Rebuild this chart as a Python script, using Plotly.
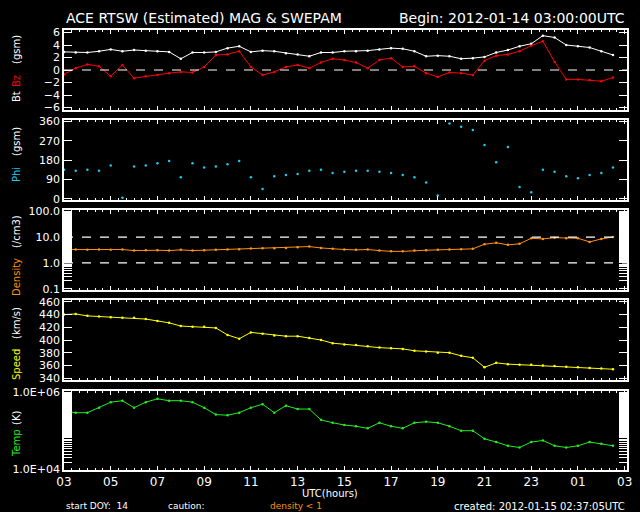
import plotly.graph_objects as go

# hours since 2012-01-14 03:00 UTC, half-hour steps
hours = [i * 0.5 for i in range(48)]

bt = [2.9, 2.8, 2.8, 3.0, 3.3, 3.0, 3.2, 3.1, 3.0, 2.9, 1.8, 2.8, 2.8, 2.9, 3.5, 3.8,
      2.9, 3.1, 3.0, 2.7, 2.5, 2.2, 2.8, 2.8, 3.0, 3.0, 3.1, 3.3, 3.5, 3.4, 3.0, 2.2,
      2.3, 2.2, 1.8, 1.9, 2.1, 2.8, 3.2, 3.8, 4.2, 5.5, 5.2, 4.0, 3.8, 3.6, 3.0, 2.4]
bz = [-0.7, 0.3, 0.9, 0.6, -1.0, 0.8, -1.3, -1.0, -0.8, -0.5, -0.3, -0.4, 0.5, 2.4, 2.5, 3.0,
      0.5, -0.8, -0.3, 0.5, 0.8, 0.3, 1.2, 1.8, 1.6, 1.2, 0.3, 1.6, 1.9, 0.5, 0.6, -0.5,
      -1.1, -0.4, -0.5, -0.8, 1.5, 2.3, 2.5, 3.0, 3.9, 4.6, 1.3, -1.5, -1.5, -1.6, -1.8, -1.2]
phi = [135, 130, 135, 130, 155, 5, 150, 155, 165, 175, 100, 165, 145, 150, 160, 175,
       100, 45, 105, 110, 115, 130, 135, 120, 125, 130, 130, 125, 120, 110, 100, 75,
       15, 350, 335, 320, 250, 170, 240, 55, 30, 135, 125, 105, 95, 110, 120, 145]
density = [3.3, 3.3, 3.2, 3.3, 3.2, 3.3, 3.0, 3.1, 3.1, 3.0, 3.2, 3.0, 3.1, 3.2, 3.3, 3.4,
           3.6, 3.7, 3.7, 3.8, 4.0, 4.3, 3.8, 3.5, 3.3, 3.2, 3.3, 3.0, 2.8, 2.8, 3.0, 3.1,
           3.2, 3.3, 3.4, 3.5, 5.3, 6.0, 5.0, 5.5, 9.0, 8.5, 9.5, 9.0, 9.0, 6.5, 8.5, 10.0]
speed = [440, 441, 438, 437, 436, 435, 435, 433, 430, 427, 422, 421, 421, 419, 408, 402,
         412, 410, 407, 406, 406, 403, 400, 395, 393, 392, 390, 388, 387, 386, 383, 382,
         380, 380, 375, 372, 357, 364, 362, 361, 361, 360, 359, 358, 357, 356, 355, 354]
temp = [3.2e5, 2.9e5, 2.9e5, 3.9e5, 5.4e5, 5.9e5, 3.9e5, 5.4e5, 6.6e5, 5.9e5, 5.9e5, 5.4e5,
        3.9e5, 2.6e5, 2.5e5, 2.9e5, 3.9e5, 4.8e5, 2.9e5, 4.4e5, 3.6e5, 3.6e5, 1.9e5, 1.6e5,
        1.4e5, 1.3e5, 1.15e5, 1.6e5, 1.3e5, 1.15e5, 1.6e5, 1.7e5, 1.6e5, 1.3e5, 1.0e5, 1.0e5,
        6.2e4, 5.1e4, 4.1e4, 3.7e4, 5.1e4, 5.6e4, 4.1e4, 3.7e4, 4.1e4, 5.1e4, 4.6e4, 4.1e4]

xtick_vals = list(range(0, 25, 2))
xtick_text = ["03", "05", "07", "09", "11", "13", "15", "17", "19", "21", "23", "01", "03"]

W, H = 640, 512
FONT = "DejaVu Sans"
# panel pixel extents (top, bottom)
panels = [(30, 110), (120, 200), (210, 290), (300, 380), (391, 470)]

fig = go.Figure()


def add(y, color, n, mode="lines+markers"):
    fig.add_trace(go.Scatter(
        x=hours, y=y, mode=mode, xaxis=f"x{n}" if n > 1 else "x",
        yaxis=f"y{n}" if n > 1 else "y",
        line=dict(color=color, width=1), marker=dict(color=color, size=2.5),
        showlegend=False, hoverinfo="skip"))


add(bt, "white", 1)
add(bz, "red", 1)
add(phi, "#22c8ee", 2, mode="markers")
add(density, "#ff9010", 3)
add(speed, "#ffff00", 4)
add(temp, "#22ee22", 5)

layout = dict(width=W, height=H, margin=dict(l=0, r=0, t=0, b=0, autoexpand=False),
              paper_bgcolor="black", plot_bgcolor="black",
              font=dict(family=FONT, color="white", size=11))

yspecs = [
    dict(range=[-6.4, 6.4], tickvals=[-6, -4, -2, 0, 2, 4, 6],
         ticktext=["−6", "−4", "−2", "0", "2", "4", "6"]),
    dict(range=[-6, 366], tickvals=[0, 90, 180, 270, 360]),
    dict(type="log", range=[-1.05, 2.05], tickvals=[0.1, 1, 10, 100],
         ticktext=["0.1", "1.0", "10.0", "100.0"],
         minor=dict(ticks="inside", ticklen=8, tickcolor="white", showgrid=False)),
    dict(range=[337, 463], tickvals=[340, 360, 380, 400, 420, 440, 460]),
    dict(type="log", range=[3.99, 6.02], tickvals=[1e4, 1e6],
         ticktext=["1.0E+04", "1.0E+06"],
         minor=dict(ticks="inside", ticklen=8, tickcolor="white", showgrid=False)),
]

for i, (top, bot) in enumerate(panels):
    n = i + 1
    suf = "" if n == 1 else str(n)
    dom = [1 - bot / H, 1 - top / H]
    layout["xaxis" + suf] = dict(
        domain=[64 / W, 627 / W], range=[0, 24.1], anchor="y" + suf, automargin=False,
        showgrid=False, zeroline=False, showline=True, linecolor="white", linewidth=1.5,
        mirror="ticks", ticks="inside", ticklen=4, tickcolor="white",
        tickvals=xtick_vals, ticktext=xtick_text if n == 5 else None,
        showticklabels=(n == 5), tickfont=dict(size=12),
        minor=dict(ticks="inside", ticklen=2, dtick=1 / 3, tickcolor="white", showgrid=False))
    ys = dict(domain=dom, anchor="x" + suf, automargin=False, showgrid=False, zeroline=False,
              showline=True, linecolor="white", linewidth=1.5, mirror="ticks",
              ticks="inside", ticklen=8, tickcolor="white", tickfont=dict(size=11))
    ys.update(yspecs[i])
    layout["yaxis" + suf] = ys

fig.update_layout(**layout)

# dashed reference lines
for yref, val in [("y", 0), ("y3", 1), ("y3", 10)]:
    fig.add_shape(type="line", xref="x" if yref == "y" else "x3", yref=yref,
                  x0=0, x1=24.1, y0=val, y1=val,
                  line=dict(color="white", width=1.2, dash="dash"))

# rotated axis titles, one piece per colour: (text, centre y px, colour)
ytitles = [
    ("Bt", 97, "white"), ("Bz", 81, "red"), ("(gsm)", 50, "white"),
    ("Phi", 175, "#22c8ee"), ("(gsm)", 142, "white"),
    ("Density", 277, "#ff9010"), ("(/cm3)", 232, "white"),
    ("Speed", 365, "#ffff00"), ("(km/s)", 323, "white"),
    ("Temp", 443, "#22ee22"), ("(K)", 418, "white"),
]
for text, yc, color in ytitles:
    fig.add_annotation(text=text, x=16 / W, y=1 - yc / H, xref="paper", yref="paper",
                       xanchor="center", yanchor="middle",
                       textangle=-90, showarrow=False, font=dict(size=10, color=color))

texts = [
    ("ACE RTSW (Estimated) MAG & SWEPAM", 64, 18, "left", 14, "white"),
    ("Begin: 2012-01-14 03:00:00UTC", 627, 18, "right", 14, "white"),
    ("UTC(hours)", 330, 493, "center", 10, "white"),
    ("start DOY:  14", 64, 506, "left", 9, "white"),
    ("caution:", 166, 506, "left", 9, "white"),
    ("density < 1", 268, 506, "left", 9, "#ff9010"),
    ("created: 2012-01-15 02:37:05UTC", 627, 506, "right", 10, "white"),
]
for text, px, py, anchor, size, color in texts:
    fig.add_annotation(text=text, x=px / W, y=1 - py / H, xref="paper", yref="paper",
                       xanchor=anchor, yanchor="middle", showarrow=False,
                       font=dict(size=size, color=color))

fig.write_html("out.html", config={"displayModeBar": False},
               post_script="document.body.style.margin='0';")
